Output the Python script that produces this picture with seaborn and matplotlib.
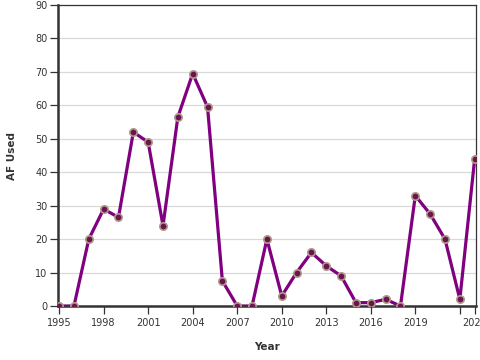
import matplotlib
matplotlib.use("Agg")
import matplotlib.pyplot as plt
import seaborn as sns
import pandas as pd

years = list(range(1995, 2024))
af_used = [0, 0, 20, 29, 26.5, 52, 49, 24, 56.5, 69.5, 59.5, 7.5, 0, 0, 20, 3,
           10, 16, 12, 9, 1, 1, 2, 0, 33, 27.5, 20, 2, 44]
x_ticks = [1995, 1998, 2001, 2004, 2007, 2010, 2013, 2016, 2019, 2022, 2023]
x_tick_labels = ["1995", "1998", "2001", "2004", "2007", "2010", "2013", "2016", "2019", "", "2023"]
y_ticks = [0, 10, 20, 30, 40, 50, 60, 70, 80, 90]

df = pd.DataFrame({"Year": years, "AF Used": af_used})

sns.set_theme(style="white")
plt.rcParams['font.family'] = ['DejaVu Sans']

fig = plt.figure(figsize=(4.8, 3.6), dpi=100)
ax = fig.add_axes([0.121, 0.15, 0.871, 0.836])

sns.lineplot(data=df, x="Year", y="AF Used", ax=ax, color="#800080", linewidth=2.3,
             marker="o", markersize=5.3, markerfacecolor="#6a1450",
             markeredgecolor="#b09a88", markeredgewidth=1.2, zorder=3)

ax.set_xlim(1994.93, 2023.1)
ax.set_ylim(0, 90)
ax.set_xticks(x_ticks)
ax.set_xticklabels(x_tick_labels)
ax.set_yticks(y_ticks)
ax.yaxis.grid(True, color="#d9d9d9", linewidth=0.9)
ax.xaxis.grid(False)
ax.set_axisbelow(True)

for s in ["top", "right"]:
    ax.spines[s].set_color("#333333")
    ax.spines[s].set_linewidth(0.9)
for s in ["left", "bottom"]:
    ax.spines[s].set_color("#333333")
    ax.spines[s].set_linewidth(1.8)

ax.tick_params(axis="both", which="both", length=6, width=0.9, color="#333333",
               labelsize=7, labelcolor="#333333", bottom=True, left=True, pad=1.5)
ax.tick_params(axis="x", pad=3)
for lab in ax.get_xticklabels():
    lab.set_clip_on(False)

ax.set_xlabel("Year", fontsize=7.5, fontweight="bold", color="#333333", labelpad=10)
ax.set_ylabel("AF Used", fontsize=7.5, fontweight="bold", color="#333333", labelpad=13)

fig.savefig("out.png", dpi=100)
